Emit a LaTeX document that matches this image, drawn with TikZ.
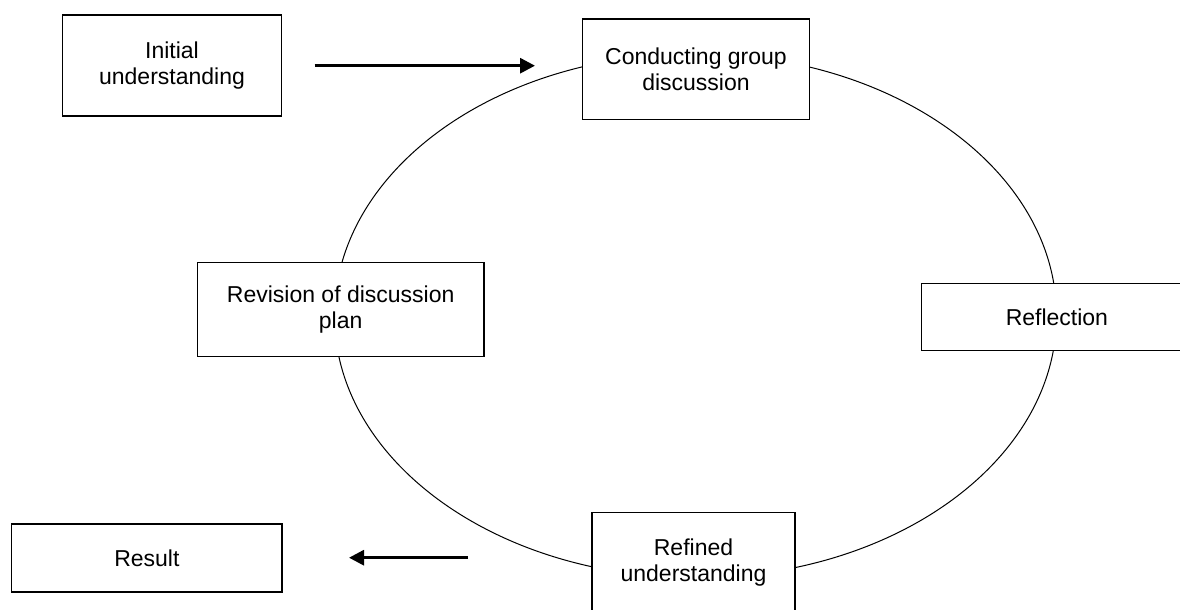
\documentclass[tikz,border=0pt]{standalone}
\usepackage{fontspec}
\setmainfont{Liberation Sans}
\usetikzlibrary{arrows.meta}
\begin{document}
\begin{tikzpicture}[x=1pt,y=-1pt,
  stagebox/.style={draw=black, line width=1.3pt, fill=white, inner sep=0pt, align=center,
    font=\fontsize{23}{26.5}\selectfont},
  flowarrow/.style={line width=3pt, -{Triangle[length=15pt,width=15pt]}},
  cycleline/.style={line width=1pt}]
\useasboundingbox (0,0) rectangle (1180,610);
\clip (0,0) rectangle (1180,610);
\fill[white] (0,0) rectangle (1180,610);
\draw[cycleline] (695.5,315.7) ellipse [x radius=361, y radius=262];
\node[stagebox, minimum width=219.6pt, minimum height=101pt] (init) at (172,65.5) {Initial\\understanding};
\node[stagebox, minimum width=227pt, minimum height=100.3pt] (cond) at (696,69.2) {Conducting group\\discussion};
\node[stagebox, minimum width=270.3pt, minimum height=67pt] (refl) at (1056.9,317.2) {Reflection};
\node[stagebox, minimum width=286.7pt, minimum height=94pt] (rev) at (340.7,309.7) {Revision of discussion\\plan};
\node[stagebox, minimum width=270.2pt, minimum height=68pt] (result) at (146.9,558) {Result};
\node[stagebox, minimum width=203pt, minimum height=99.3pt] (refd) at (693.5,562.3) {Refined\\understanding};
\coordinate (a1s) at (314.6,65.7);
\coordinate (a1e) at (535,65.7);
\coordinate (a2s) at (468,557.7);
\coordinate (a2e) at (349,557.7);
\draw[flowarrow] (a1s) -- (a1e);
\draw[flowarrow] (a2s) -- (a2e);
\end{tikzpicture}
\end{document}
